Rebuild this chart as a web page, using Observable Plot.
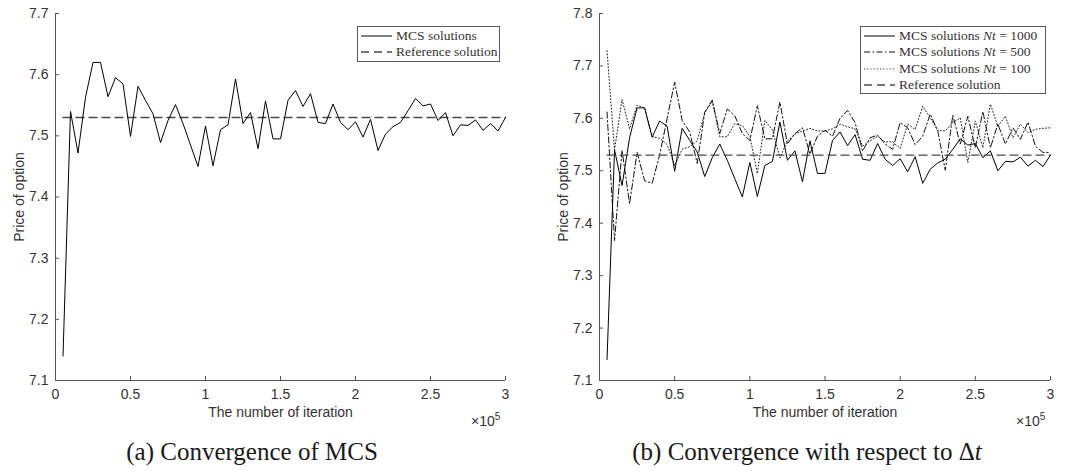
<!DOCTYPE html>
<html><head><meta charset="utf-8">
<script src="https://cdn.jsdelivr.net/npm/d3@7"></script>
<script src="https://cdn.jsdelivr.net/npm/@observablehq/plot@0.6"></script>
<style>
body{margin:0;background:#fff;}
#wrap{position:relative;width:1069px;height:471px;overflow:hidden;background:#fff;font-family:"Liberation Sans",Arial,sans-serif;}
.panel{position:absolute;top:0;}
.panel text{font-size:14px;}
.legend{position:absolute;background:#fff;border:1px solid #5a5a5a;font-family:"Liberation Serif","DejaVu Serif",serif;font-size:13.5px;color:#333;box-sizing:border-box;padding-top:0.5px;}
.row{display:flex;align-items:center;height:16.5px;white-space:nowrap;}
.row svg{flex:none;}
.row span{margin-left:4px;}
.caption{position:absolute;font-family:"Liberation Serif","Times New Roman",serif;font-size:25px;line-height:25px;color:#1a1a1a;white-space:nowrap;transform:translateX(-50%);}
.exp{position:absolute;font-size:14px;color:#333;line-height:15px;}
.exp sup{font-size:10px;}
</style></head>
<body>
<div id="wrap"></div>
<script>
// ---- data ----
const iterations = [5000,10000,15000,20000,25000,30000,35000,40000,45000,50000,
  55000,60000,65000,70000,75000,80000,85000,90000,95000,100000,
  105000,110000,115000,120000,125000,130000,135000,140000,145000,150000,
  155000,160000,165000,170000,175000,180000,185000,190000,195000,200000,
  205000,210000,215000,220000,225000,230000,235000,240000,245000,250000,
  255000,260000,265000,270000,275000,280000,285000,290000,295000,300000];
const mcsNt1000 = [7.14,7.54,7.472,7.563,7.62,7.62,7.564,7.595,7.585,7.499,
  7.581,7.558,7.536,7.489,7.525,7.551,7.52,7.485,7.45,7.516,
  7.451,7.51,7.518,7.593,7.52,7.538,7.479,7.557,7.495,7.495,
  7.558,7.574,7.548,7.569,7.522,7.52,7.552,7.522,7.51,7.523,
  7.498,7.527,7.476,7.503,7.515,7.522,7.541,7.561,7.549,7.552,
  7.525,7.538,7.5,7.518,7.517,7.526,7.509,7.52,7.508,7.53];
const mcsNt500 = [7.612,7.367,7.539,7.437,7.535,7.481,7.476,7.53,7.6,7.669,
  7.596,7.574,7.514,7.612,7.635,7.571,7.618,7.605,7.571,7.558,
  7.624,7.561,7.561,7.631,7.551,7.571,7.582,7.532,7.566,7.577,
  7.566,7.6,7.615,7.592,7.538,7.563,7.568,7.551,7.541,7.592,
  7.582,7.55,7.566,7.608,7.576,7.501,7.606,7.551,7.604,7.544,
  7.613,7.544,7.589,7.551,7.582,7.56,7.593,7.547,7.535,7.535];
const mcsNt100 = [7.729,7.54,7.636,7.58,7.625,7.62,7.565,7.562,7.55,7.51,
  7.541,7.546,7.557,7.61,7.633,7.565,7.565,7.59,7.586,7.566,
  7.495,7.596,7.578,7.525,7.557,7.57,7.576,7.581,7.576,7.576,
  7.58,7.589,7.584,7.58,7.547,7.557,7.566,7.555,7.555,7.543,
  7.589,7.579,7.623,7.601,7.577,7.576,7.592,7.601,7.516,7.595,
  7.544,7.627,7.585,7.604,7.563,7.589,7.573,7.579,7.581,7.582];
const referenceValue = 7.53;
const xTicks = [0,50000,100000,150000,200000,250000,300000];
const xTickLabels = ["0","0.5","1","1.5","2","2.5","3"];
const yTicksA = [7.1,7.2,7.3,7.4,7.5,7.6,7.7];
const yTicksB = [7.1,7.2,7.3,7.4,7.5,7.6,7.7,7.8];

// ---- helpers ----
const table = vals => iterations.map((x, i) => ({x, y: vals[i]}));
const refTable = iterations.map(x => ({x, y: referenceValue}));
const AX = "#555";
const TXT = "#333";
const H = 430, MT = 13, MB = 50;

function drawPanel({lines, yDomain, yTicks, ml, mr, width}) {
  const innerH = H - MT - MB, innerW = width - ml - mr;
  const yLen = (yDomain[1] - yDomain[0]) * 4 / innerH;
  const xLen = 300000 * 4 / innerW;
  return Plot.plot({
    width, height: H, marginLeft: ml, marginRight: mr, marginTop: MT, marginBottom: MB,
    style: {fontFamily: "Liberation Sans, Arial, sans-serif", fontSize: "14px", color: TXT, background: "transparent", overflow: "visible"},
    x: {domain: [0, 300000]},
    y: {domain: yDomain},
    marks: [
      Plot.axisX({ticks: xTicks, tickFormat: d => xTickLabels[xTicks.indexOf(d)], tickSize: 0, tickPadding: 9,
        label: "The number of iteration", labelAnchor: "center", labelArrow: "none", labelOffset: 36}),
      Plot.axisY({ticks: yTicks, tickFormat: d3.format(".1f"), tickSize: 0, tickPadding: 7,
        label: "Price of option", labelAnchor: "center", labelArrow: "none", labelOffset: 41}),
      Plot.ruleX(xTicks, {y1: yDomain[0], y2: yDomain[0] + yLen, stroke: AX}),
      Plot.ruleY(yTicks, {x1: 0, x2: xLen, stroke: AX}),
      Plot.ruleY([yDomain[0]], {stroke: AX}),
      Plot.ruleX([0], {stroke: AX}),
      ...lines
    ]
  });
}

const wrap = document.getElementById("wrap");

// Left panel
const left = drawPanel({
  width: 534, ml: 55, mr: 29, yDomain: [7.1, 7.7], yTicks: yTicksA,
  lines: [
    Plot.line(refTable, {x: "x", y: "y", stroke: "#4a4a4a", strokeWidth: 1.3, strokeDasharray: "8,5"}),
    Plot.line(table(mcsNt1000), {x: "x", y: "y", stroke: "#000", strokeWidth: 1})
  ]
});
left.classList.add("panel"); left.style.left = "0px";
wrap.appendChild(left);

// Right panel
const right = drawPanel({
  width: 535, ml: 65, mr: 19, yDomain: [7.1, 7.8], yTicks: yTicksB,
  lines: [
    Plot.line(table(mcsNt100), {x: "x", y: "y", stroke: "#222", strokeWidth: 1, strokeDasharray: "1,2.2"}),
    Plot.line(table(mcsNt500), {x: "x", y: "y", stroke: "#111", strokeWidth: 1, strokeDasharray: "6,2.5,1.5,2.5"}),
    Plot.line(table(mcsNt1000), {x: "x", y: "y", stroke: "#000", strokeWidth: 1}),
    Plot.line(refTable, {x: "x", y: "y", stroke: "#4a4a4a", strokeWidth: 1.3, strokeDasharray: "8,5"})
  ]
});
right.classList.add("panel"); right.style.left = "534px";
wrap.appendChild(right);

// Legends
function sample(dash, color, w) {
  return `<svg width="31" height="10"><line x1="0" x2="31" y1="5" y2="5" stroke="${color}" stroke-width="${w}" ${dash ? `stroke-dasharray="${dash}"` : ""}/></svg>`;
}
function legend(x, y, w, h, rows) {
  const d = document.createElement("div");
  d.className = "legend";
  Object.assign(d.style, {left: x + "px", top: y + "px", width: w + "px", height: h + "px", paddingLeft: "3px"});
  d.innerHTML = rows.map(r => `<div class="row">${sample(r.dash, r.color, r.w)}<span>${r.label}</span></div>`).join("");
  wrap.appendChild(d);
}
legend(357, 26, 143, 36, [
  {label: "MCS solutions", dash: null, color: "#000", w: 1},
  {label: "Reference solution", dash: "8,5", color: "#4a4a4a", w: 1.3}
]);
const nt = v => `MCS solutions <i>Nt</i> = ${v}`;
legend(860, 26, 186, 68, [
  {label: nt(1000), dash: null, color: "#000", w: 1},
  {label: nt(500), dash: "6,2.5,1.5,2.5", color: "#111", w: 1},
  {label: nt(100), dash: "1,2.2", color: "#222", w: 1},
  {label: "Reference solution", dash: "8,5", color: "#4a4a4a", w: 1.3}
]);

// exponent labels
function exp(x) {
  const d = document.createElement("div");
  d.className = "exp";
  d.style.left = x + "px"; d.style.top = "409px";
  d.innerHTML = "×10<sup>5</sup>";
  wrap.appendChild(d);
}
exp(471); exp(1016);

// captions
function caption(cx, html) {
  const d = document.createElement("div");
  d.className = "caption";
  d.style.left = cx + "px"; d.style.top = "439px";
  d.innerHTML = html;
  wrap.appendChild(d);
}
caption(252, "(a) Convergence of MCS");
caption(807, "(b) Convergence with respect to Δ<i>t</i>");
</script>
</body></html>
